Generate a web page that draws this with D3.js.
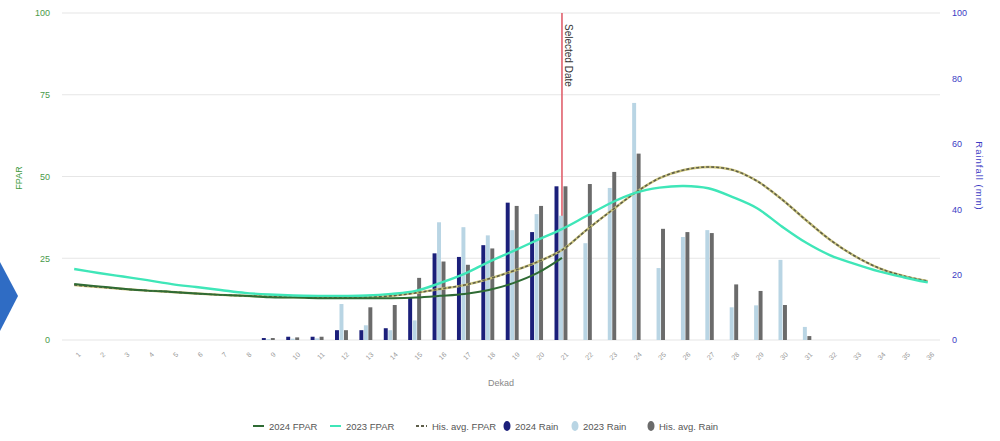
<!DOCTYPE html>
<meta charset="utf-8">
<script src="https://d3js.org/d3.v7.min.js"></script>
<style>
  body { margin: 0; background: #fff; }
  text { font-family: "Liberation Sans", "DejaVu Sans", sans-serif; }
</style>
<div id="my_dataviz"></div>
<script>
    // dekads 1..36
    var dekads = d3.range(1, 37);

    // rainfall (mm) per dekad
    var rain2024 = [0,0,0,0,0,0,0,0,0.6,1,1,3,3,3.6,13,26.5,25.4,29,42,33,47];
    var rain2023 = [0,0,0,0,0,0,0,0,0.3,0.4,0.5,11,4.5,3,6,36,34.5,32,33.6,38.5,38,29.6,46.5,72.5,22,31.5,33.6,10,10.6,24.5,4,0,0,0,0,0];
    var rainHist = [0,0,0,0,0,0,0,0,0.6,0.8,1,3,10,10.7,19,24,23,28,41,41,47,47.7,51.4,57,34,33,32.7,17,15,10.7,1.2,0,0,0,0,0];

    // FPAR per dekad
    var fpar2024 = [17.1,16.4,15.7,15.1,14.7,14.2,13.8,13.5,13.1,13.0,12.8,12.8,12.8,12.8,13.0,13.5,14.1,15.3,17.4,20.5,25.1];
    var fpar2023 = [21.7,20.5,19.4,18.3,17.1,16.2,15.3,14.4,13.9,13.6,13.5,13.5,13.6,14.1,15.0,17.4,20.2,23.9,27.2,30.6,33.9,37.9,41.9,45,46.6,47.1,46.4,43.7,40.3,34.8,29.8,25.9,23.3,21.0,19.2,17.6];
    var fparHist = [16.8,16.2,15.6,15.1,14.7,14.2,13.8,13.5,13.3,13.1,13.1,13.1,13.1,13.5,14.4,15.6,16.8,18.7,21.1,23.9,27.5,33.6,39.4,45,49.5,52,52.9,52,48.6,43.1,36.7,30.6,25.7,22,19.6,18];

    var selectedDekad = 21;
    var leftTicks = [0, 25, 50, 75, 100];
    var rightTicks = [0, 20, 40, 60, 80, 100];

    var W = 1000, H = 441;
    var svg = d3.select("#my_dataviz").append("svg")
        .attr("width", W).attr("height", H);

    // decorative chevron from the slide at left edge
    svg.append("path")
        .attr("d", "M0,262 L18,296 L0,331 Z")
        .attr("fill", "#2f6cc4");

    var x = d3.scaleBand().domain(dekads).range([62, 940]);
    var yL = d3.scaleLinear().domain([0, 100]).range([340, 13]);
    var yR = d3.scaleLinear().domain([0, 100]).range([340, 13]);
    var keys = ["r24", "r23", "rh"];
    var xSub = d3.scaleBand().domain(keys).range([0, 14]).padding(0.12);
    var colors = {r24: "#1b1f7a", r23: "#b9d5e4", rh: "#6b6b6b"};

    // gridlines
    svg.append("g").selectAll("line").data(leftTicks).join("line")
        .attr("x1", 62).attr("x2", 940)
        .attr("y1", d => yL(d)).attr("y2", d => yL(d))
        .attr("stroke", "#e6e6e6").attr("stroke-width", 1.2);

    // left axis
    var axL = svg.append("g").attr("transform", "translate(54,0)")
        .call(d3.axisLeft(yL).tickValues(leftTicks).tickSize(0).tickPadding(4));
    axL.select(".domain").remove();
    axL.selectAll("text").attr("fill", "#4a9a4a").style("font-size", "9px");

    // right axis
    var axR = svg.append("g").attr("transform", "translate(948,0)")
        .call(d3.axisRight(yR).tickValues(rightTicks).tickSize(0).tickPadding(4));
    axR.select(".domain").remove();
    axR.selectAll("text").attr("fill", "#3b3bc4").style("font-size", "9px");

    // x axis
    var axX = svg.append("g").attr("transform", "translate(0,345)")
        .call(d3.axisBottom(x).tickSize(0).tickPadding(6));
    axX.select(".domain").remove();
    axX.selectAll("text")
        .attr("fill", "#999")
        .style("font-size", "7px")
        .attr("transform", "rotate(-45)")
        .style("text-anchor", "end")
        .attr("dx", "-2px").attr("dy", "6px");

    // axis titles
    svg.append("text")
        .attr("transform", "translate(22,178) rotate(-90)")
        .attr("text-anchor", "middle")
        .attr("fill", "#3e9a3e").style("font-size", "9px")
        .text("FPAR");
    svg.append("text")
        .attr("transform", "translate(976,176) rotate(90)")
        .attr("text-anchor", "middle")
        .attr("fill", "#3b3bc4").style("font-size", "9.5px")
        .style("letter-spacing", "1px")
        .text("Rainfall (mm)");
    svg.append("text")
        .attr("x", 501).attr("y", 386)
        .attr("text-anchor", "middle")
        .attr("fill", "#888").style("font-size", "9px")
        .text("Dekad");

    // selected date marker
    var sx = x(selectedDekad) + x.bandwidth() / 2;
    svg.append("line")
        .attr("x1", sx).attr("x2", sx).attr("y1", yL(100)).attr("y2", yL(0))
        .attr("stroke", "#e0606c").attr("stroke-width", 1.6);
    svg.append("text")
        .attr("transform", "translate(" + (sx + 3) + ",24) rotate(90)")
        .attr("fill", "#333").style("font-size", "10px")
        .text("Selected Date");

    // rain bars
    var rainSeries = [
        {key: "r24", values: rain2024},
        {key: "r23", values: rain2023},
        {key: "rh", values: rainHist}
    ];
    rainSeries.forEach(function(s) {
        svg.append("g").selectAll("rect")
            .data(s.values.map((v, i) => ({d: dekads[i], v: v})).filter(o => o.v > 0))
            .join("rect")
            .attr("x", o => x(o.d) + x.bandwidth() / 2 - 8 + xSub(s.key))
            .attr("width", xSub.bandwidth())
            .attr("y", o => yR(o.v))
            .attr("height", o => yR(0) - yR(o.v))
            .attr("fill", colors[s.key]);
    });

    // FPAR lines
    var line = d3.line()
        .x((v, i) => x(dekads[i]) + x.bandwidth() / 2)
        .y(v => yL(v))
        .curve(d3.curveCatmullRom.alpha(0.5));

    svg.append("path").datum(fparHist)
        .attr("d", line).attr("fill", "none")
        .attr("stroke", "#c9c27a").attr("stroke-width", 2.4);
    svg.append("path").datum(fparHist)
        .attr("d", line).attr("fill", "none")
        .attr("stroke", "#5e5e4a").attr("stroke-width", 1.6)
        .attr("stroke-dasharray", "3,2");
    svg.append("path").datum(fpar2024)
        .attr("d", line).attr("fill", "none")
        .attr("stroke", "#2f6b34").attr("stroke-width", 2);
    svg.append("path").datum(fpar2023)
        .attr("d", line).attr("fill", "none")
        .attr("stroke", "#3fe6b8").attr("stroke-width", 2.4);

    // legend
    var legendItems = [
        {label: "2024 FPAR", type: "line", color: "#2f6b34", x: 253},
        {label: "2023 FPAR", type: "line", color: "#3fe6b8", x: 330},
        {label: "His. avg. FPAR", type: "dash", color: "#5e5e4a", x: 416},
        {label: "2024 Rain", type: "dot", color: colors.r24, x: 503},
        {label: "2023 Rain", type: "dot", color: colors.r23, x: 571},
        {label: "His. avg. Rain", type: "dot", color: colors.rh, x: 647}
    ];
    var legend = svg.append("g");
    legendItems.forEach(function(it) {
        var g = legend.append("g").attr("transform", "translate(" + it.x + ",426)");
        if (it.type === "dot") {
            g.append("ellipse").attr("cx", 4).attr("cy", 0).attr("rx", 3.5).attr("ry", 5)
                .attr("fill", it.color);
            g.append("text").attr("x", 12).attr("y", 3.5)
                .attr("fill", "#555").style("font-size", "9.5px").text(it.label);
        } else {
            g.append("line").attr("x1", 0).attr("x2", 11).attr("y1", 0).attr("y2", 0)
                .attr("stroke", it.color).attr("stroke-width", 2)
                .attr("stroke-dasharray", it.type === "dash" ? "3,2" : null);
            g.append("text").attr("x", 16).attr("y", 3.5)
                .attr("fill", "#555").style("font-size", "9.5px").text(it.label);
        }
    });
</script>
